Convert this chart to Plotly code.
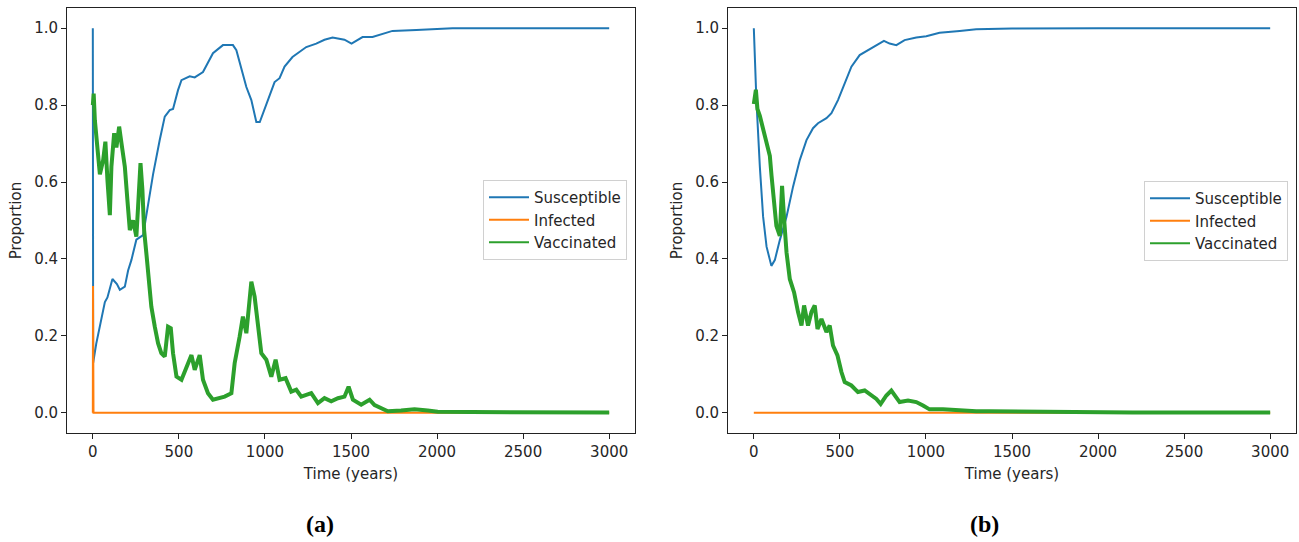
import plotly.graph_objects as go

# ---------------- Panel (a) ----------------
t_sus_a = [0, 2, 20, 41, 70, 85, 114, 140, 157, 186, 205, 224, 253, 292, 350, 389, 418, 447, 466,
           495, 515, 563, 592, 640, 698, 756, 814, 834, 892, 921, 950, 970, 1008, 1056, 1085, 1114,
           1160, 1240, 1298, 1346, 1393, 1462, 1503, 1567, 1625, 1741, 1880, 2090, 2500, 3000]
sus_a = [1.0, 0.13, 0.18, 0.224, 0.288, 0.30, 0.348, 0.335, 0.32, 0.328, 0.37, 0.397, 0.45, 0.462,
         0.62, 0.71, 0.77, 0.787, 0.79, 0.839, 0.865, 0.875, 0.872, 0.886, 0.935, 0.956, 0.956,
         0.943, 0.847, 0.813, 0.756, 0.756, 0.804, 0.86, 0.87, 0.9, 0.925, 0.951, 0.96, 0.97,
         0.976, 0.97, 0.96, 0.977, 0.977, 0.993, 0.995, 1.0, 1.0, 1.0]

t_inf_a = [0, 1, 4, 3000]
inf_a = [0.0, 0.33, 0.0, 0.0]

t_vac_a = [0, 5, 12, 27, 41, 60, 73, 85, 99, 108, 124, 137, 153, 170, 186, 201, 215, 234, 253, 263,
           277, 288, 298, 311, 325, 340, 360, 379, 398, 418, 437, 453, 466, 486, 515, 544, 573, 592,
           621, 640, 669, 698, 727, 766, 805, 824, 853, 872, 892, 911, 921, 940, 959, 979, 1008,
           1037, 1062, 1085, 1120, 1153, 1182, 1211, 1269, 1308, 1346, 1385, 1424, 1462, 1486,
           1511, 1559, 1608, 1637, 1675, 1714, 1791, 1869, 1946, 2004, 2200, 2600, 3000]
vac_a = [0.80, 0.83, 0.76, 0.683, 0.62, 0.657, 0.705, 0.605, 0.514, 0.64, 0.727, 0.69, 0.744, 0.69,
         0.64, 0.553, 0.475, 0.50, 0.458, 0.536, 0.649, 0.58, 0.475, 0.415, 0.345, 0.276, 0.224,
         0.181, 0.155, 0.146, 0.224, 0.22, 0.155, 0.094, 0.086, 0.12, 0.15, 0.112, 0.15, 0.086,
         0.051, 0.034, 0.038, 0.042, 0.051, 0.129, 0.198, 0.25, 0.207, 0.302, 0.341, 0.302, 0.224,
         0.155, 0.138, 0.094, 0.138, 0.086, 0.09, 0.055, 0.06, 0.042, 0.051, 0.025, 0.038, 0.03,
         0.038, 0.042, 0.068, 0.034, 0.021, 0.034, 0.02, 0.012, 0.004, 0.006, 0.009, 0.006, 0.003,
         0.002, 0.001, 0.001]

# ---------------- Panel (b) ----------------
t_sus_b = [0, 15, 35, 54, 74, 102, 122, 151, 190, 228, 267, 306, 344, 373, 422, 451, 489, 528, 567,
           615, 663, 712, 756, 789, 828, 876, 944, 1002, 1079, 1196, 1292, 1500, 2000, 3000]
sus_b = [1.0, 0.813, 0.64, 0.51, 0.432, 0.382, 0.397, 0.449, 0.51, 0.588, 0.657, 0.709, 0.74, 0.753,
         0.766, 0.779, 0.813, 0.857, 0.90, 0.93, 0.943, 0.956, 0.967, 0.96, 0.956, 0.969, 0.976,
         0.979, 0.988, 0.993, 0.997, 0.999, 1.0, 1.0]

t_inf_b = [0, 3000]
inf_b = [0.0, 0.0]

t_vac_b = [0, 12, 21, 35, 54, 74, 93, 103, 118, 131, 151, 164, 176, 190, 209, 234, 257, 277, 292,
           315, 335, 354, 370, 393, 422, 441, 460, 486, 509, 528, 567, 605, 644, 683, 712, 737, 770,
           799, 847, 896, 944, 983, 1021, 1099, 1176, 1292, 1370, 1600, 1873, 2200, 3000]
vac_b = [0.803, 0.84, 0.79, 0.772, 0.738, 0.703, 0.668, 0.616, 0.538, 0.486, 0.46, 0.59, 0.504,
         0.417, 0.348, 0.313, 0.262, 0.227, 0.279, 0.227, 0.262, 0.279, 0.218, 0.244, 0.21, 0.227,
         0.175, 0.149, 0.106, 0.08, 0.071, 0.054, 0.058, 0.045, 0.036, 0.023, 0.045, 0.058, 0.028,
         0.032, 0.028, 0.019, 0.009, 0.009, 0.006, 0.004, 0.004, 0.003, 0.003, 0.001, 0.001]

series_names = ["Susceptible", "Infected", "Vaccinated"]
colors = ["#1f77b4", "#ff7f0e", "#2ca02c"]
x_ticks = [0, 500, 1000, 1500, 2000, 2500, 3000]
y_ticks = [0.0, 0.2, 0.4, 0.6, 0.8, 1.0]
panel_labels = ["(a)", "(b)"]

FONT = "DejaVu Sans"
TXT = "#262626"

fig = go.Figure()

panels = [
    ("x", "y", "legend", [(t_sus_a, sus_a), (t_inf_a, inf_a), (t_vac_a, vac_a)]),
    ("x2", "y2", "legend2", [(t_sus_b, sus_b), (t_inf_b, inf_b), (t_vac_b, vac_b)]),
]
for xa, ya, lg, data in panels:
    for i, (tt, vv) in enumerate(data):
        thick = (i == 2)
        fig.add_trace(go.Scatter(
            x=tt, y=vv, mode="lines", name=series_names[i], xaxis=xa, yaxis=ya,
            line=dict(color=colors[i], width=4 if thick else 2),
            legend=lg, showlegend=not thick, hoverinfo="skip"))
    # legend-only entry for the vaccinated series (thin sample line)
    fig.add_trace(go.Scatter(
        x=[None], y=[None], mode="lines", name=series_names[2], xaxis=xa, yaxis=ya,
        line=dict(color=colors[2], width=2), legend=lg, showlegend=True))

W, H = 1299, 542
ydom = [(542 - 433) / H, (542 - 8) / H]

axis_common = dict(
    showline=True, mirror=True, linecolor="#222", linewidth=1,
    ticks="outside", ticklen=5, tickcolor="#222", tickwidth=1,
    showgrid=False, zeroline=False,
    tickfont=dict(family=FONT, size=15, color=TXT),
)

fig.update_layout(
    width=W, height=H,
    margin=dict(l=0, r=0, t=0, b=0),
    paper_bgcolor="white", plot_bgcolor="white",
    font=dict(family=FONT, size=15, color=TXT),
    xaxis=dict(domain=[67 / W, 635 / W], anchor="y", range=[-150, 3150], tickvals=x_ticks,
               title=dict(text="Time (years)", font=dict(family=FONT, size=15, color=TXT), standoff=8),
               **axis_common),
    yaxis=dict(domain=ydom, anchor="x", range=[-0.0525, 1.0525], tickvals=y_ticks, tickformat=".1f",
               title=dict(text="Proportion", font=dict(family=FONT, size=15, color=TXT), standoff=8),
               **axis_common),
    xaxis2=dict(domain=[728 / W, 1296 / W], anchor="y2", range=[-150, 3150], tickvals=x_ticks,
                title=dict(text="Time (years)", font=dict(family=FONT, size=15, color=TXT), standoff=8),
                **axis_common),
    yaxis2=dict(domain=ydom, anchor="x2", range=[-0.0525, 1.0525], tickvals=y_ticks, tickformat=".1f",
                title=dict(text="Proportion", font=dict(family=FONT, size=15, color=TXT), standoff=8),
                **axis_common),
    legend=dict(x=627 / W, xanchor="right", y=(542 - 220) / H, yanchor="middle",
                bgcolor="rgba(255,255,255,0.85)", bordercolor="#d0d0d0", borderwidth=1,
                font=dict(family=FONT, size=15, color=TXT), itemwidth=40, tracegroupgap=0),
    legend2=dict(x=1288 / W, xanchor="right", y=(542 - 221) / H, yanchor="middle",
                 bgcolor="rgba(255,255,255,0.85)", bordercolor="#d0d0d0", borderwidth=1,
                 font=dict(family=FONT, size=15, color=TXT), itemwidth=40, tracegroupgap=0),
    showlegend=True,
)

for lbl, cx in zip(panel_labels, [320, 984]):
    fig.add_annotation(text="<b>" + lbl + "</b>", x=cx / W, y=(542 - 524) / H,
                       xref="paper", yref="paper", showarrow=False,
                       xanchor="center", yanchor="middle",
                       font=dict(family="Liberation Serif", size=24, color="black"))

fig.write_html(
    "out.html",
    config={"displayModeBar": False},
    post_script="document.body.style.margin='0';document.body.style.padding='0';"
                "document.body.style.overflow='hidden';",
)
